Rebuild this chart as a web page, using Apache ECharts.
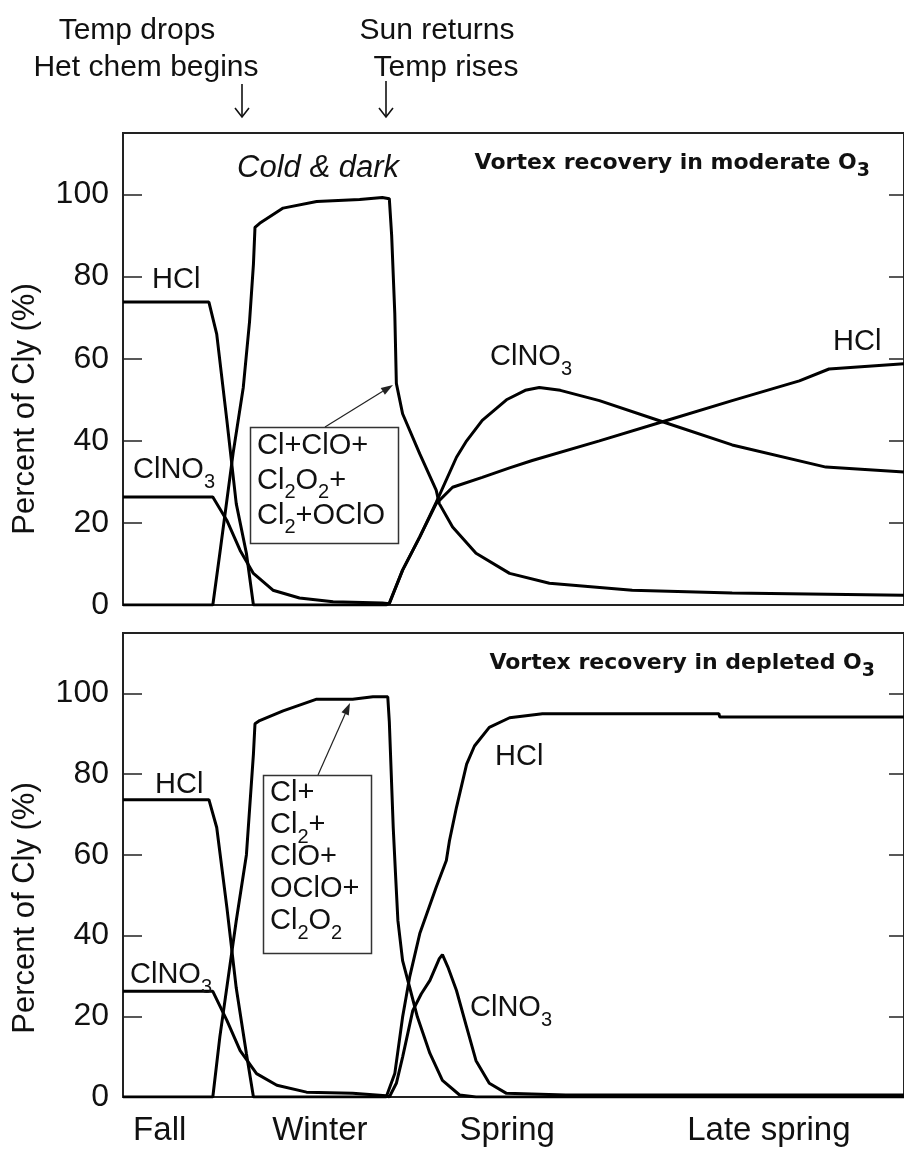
<!DOCTYPE html>
<html><head><meta charset="utf-8">
<script src="https://cdn.jsdelivr.net/npm/echarts@6/dist/echarts.min.js"></script>
<style>html,body{margin:0;padding:0;background:#fff}#chart{width:904px;height:1152px}</style>
</head><body><div id="chart"></div>
<script>
// ---- data (x: 0-100 season-time index, y: percent of Cly) ----
const yTicks = [0, 20, 40, 60, 80, 100];
const seasonLabels = ['Fall', 'Winter', 'Spring', 'Late spring'];
const seasonPositions = [4.7, 25.2, 49.2, 82.7];

// Top panel: vortex recovery in moderate O3
const hclModerate = [[0,73.8],[11.0,73.8],[12.0,66],[13.3,45],[14.5,24.7],[15.8,12.6],[16.7,0],[33.7,0],[34.1,0.5],[35.8,8.5],[38.0,16.6],[40.1,24.7],[42.2,28.7],[46.0,31.1],[49.5,33.4],[52.4,35.2],[61.0,40],[69.5,44.9],[78.0,49.8],[86.6,54.6],[90.4,57.5],[100,58.8]];
const clno3Moderate = [[0,26.3],[11.5,26.3],[13.3,20.6],[15.0,13.3],[16.7,7.7],[19.2,3.6],[22.6,1.7],[26.9,0.8],[33.2,0.5],[34.1,0.3],[35.8,8.5],[38.0,16.6],[40.1,25],[42.7,36],[44.0,40],[46.0,45],[49.1,50],[51.5,52.3],[53.3,53],[56.0,52.3],[61.0,49.8],[68.7,44.9],[78.0,39],[90.0,33.6],[100,32.4]];
const activeModerate = [[0,0],[11.5,0],[12.4,12.6],[14.1,37],[15.4,53],[16.2,69],[16.7,83],[16.9,92],[17.5,93],[20.5,96.7],[24.8,98.3],[30.3,98.8],[33.2,99.3],[34.1,99],[34.4,90],[34.8,71],[35.0,54],[35.8,46.6],[38.0,36.8],[40.1,28],[40.5,24.7],[42.2,19],[45.2,12.6],[49.5,7.7],[54.6,5.3],[65.2,3.6],[78.0,2.9],[100,2.4]];

// Bottom panel: vortex recovery in depleted O3
const hclDepleted = [[0,73.7],[11.0,73.7],[12.0,66.8],[13.3,47],[14.5,27],[15.8,10.8],[16.7,0],[33.7,0],[34.8,5.8],[35.8,19.8],[36.7,29.7],[38.0,40.5],[39.0,46],[40.1,52],[41.4,58.6],[41.8,63.5],[42.7,71.8],[44.0,82.5],[45.0,87],[46.9,91.6],[49.5,94],[53.7,95],[76.3,95],[76.4,94.2],[100,94.2]];
const clno3Depleted = [[0,26.2],[11.5,26.2],[13.3,19],[15.0,11.5],[17.1,5.8],[19.7,2.9],[23.5,1.2],[29.4,0.9],[33.7,0.3],[34.1,0],[35.0,3.4],[35.8,9.9],[37.1,21.4],[38.2,25.6],[39.3,28.9],[40.5,34.3],[40.9,35.3],[41.6,32.2],[42.7,26.4],[44.0,17.3],[45.2,9],[46.9,3.4],[49.1,0.9],[56.7,0.5],[100,0.5]];
const activeDepleted = [[0,0],[11.5,0],[12.4,14.9],[14.5,43.7],[15.8,60],[16.7,85],[16.9,92.5],[17.5,93.3],[20.5,95.7],[24.8,98.6],[29.4,98.6],[32.0,99.2],[33.9,99.2],[34.1,93],[34.6,66.8],[34.9,55],[35.2,43.7],[35.8,33.8],[36.7,27.2],[37.7,19.8],[39.3,10.8],[40.9,4.1],[43.1,0.5],[45.2,0],[100,0]];

// ---- chart ----
const FONT = 'Liberation Sans, Arial, sans-serif';
const INK = '#111';
const chart = echarts.init(document.getElementById('chart'), null, {renderer: 'canvas'});

const grids = [
  {left: 123, top: 133, width: 782, height: 472},
  {left: 123, top: 633, width: 782, height: 464}
];

function xAxisFor(i, withLabels) {
  return {
    type: 'value', gridIndex: i, min: 0, max: 100,
    axisLine: {show: true, lineStyle: {color: '#222', width: 2}},
    axisTick: {show: false},
    splitLine: {show: false},
    axisLabel: withLabels ? {
      show: true, customValues: seasonPositions, margin: 17,
      fontSize: 33, fontFamily: FONT, color: INK,
      formatter: function (v) {
        let best = 0;
        seasonPositions.forEach((p, k) => { if (Math.abs(p - v) < Math.abs(seasonPositions[best] - v)) best = k; });
        return seasonLabels[best];
      }
    } : {show: false}
  };
}
function yLeft(i) {
  return {
    type: 'value', gridIndex: i, min: 0, max: 115, position: 'left',
    axisLine: {show: true, lineStyle: {color: '#222', width: 2}},
    axisTick: {show: true, inside: true, length: 19, customValues: yTicks, lineStyle: {color: '#222', width: 1.5}},
    axisLabel: {show: true, customValues: yTicks, margin: 14, fontSize: 32, fontFamily: FONT, color: INK},
    splitLine: {show: false}
  };
}
function yRight(i) {
  return {
    type: 'value', gridIndex: i, min: 0, max: 115, position: 'right',
    axisLine: {show: true, lineStyle: {color: '#222', width: 2}},
    axisTick: {show: true, inside: true, length: 15, customValues: yTicks, lineStyle: {color: '#222', width: 1.5}},
    axisLabel: {show: false},
    splitLine: {show: false}
  };
}
function lineSeries(data, xi, yi) {
  return {
    type: 'line', data: data, xAxisIndex: xi, yAxisIndex: yi,
    showSymbol: false, symbol: 'none', smooth: false,
    lineStyle: {color: '#000', width: 3}, z: 3, silent: true
  };
}

// text helpers (graphic annotations)
function txt(x, y, text, opts) {
  opts = opts || {};
  const fs = opts.fontSize || 29;
  const lh = opts.lineHeight || Math.round(fs * 1.2);
  const sub = {fontSize: opts.subSize || 20, fontFamily: opts.fontFamily || FONT, fontWeight: opts.fontWeight || 'normal',
               fill: INK, lineHeight: lh, padding: [opts.subPad || 24, 0, 0, 0]};
  const el = {
    type: 'text', x: x, y: y, z: 10, silent: true,
    style: {
      text: text, fontSize: fs, fontFamily: opts.fontFamily || FONT,
      fontWeight: opts.fontWeight || 'normal', fontStyle: opts.fontStyle || 'normal',
      fill: INK, lineHeight: lh,
      align: opts.align || 'left', textAlign: opts.align || 'left',
      verticalAlign: opts.va || 'middle', textVerticalAlign: opts.va || 'middle',
      rich: {s: sub}
    }
  };
  if (opts.rotation) el.rotation = opts.rotation;
  return el;
}
function arrowLine(x1, y1, x2, y2, w) {
  const dx = x2 - x1, dy = y2 - y1, L = Math.sqrt(dx * dx + dy * dy);
  const ux = dx / L, uy = dy / L, nx = -uy, ny = ux;
  const hl = 12, hw = 4;
  const bx = x2 - ux * hl, by = y2 - uy * hl;
  return [
    {type: 'line', z: 10, silent: true, shape: {x1: x1, y1: y1, x2: bx, y2: by}, style: {stroke: '#222', lineWidth: w || 1.2}},
    {type: 'polygon', z: 10, silent: true, shape: {points: [[x2, y2], [bx + nx * hw, by + ny * hw], [bx - nx * hw, by - ny * hw]]}, style: {fill: '#222'}}
  ];
}
function downArrow(x, y1, y2) {
  return [
    {type: 'line', z: 10, silent: true, shape: {x1: x, y1: y1, x2: x, y2: y2}, style: {stroke: INK, lineWidth: 1.6}},
    {type: 'polyline', z: 10, silent: true, shape: {points: [[x - 7, y2 - 9], [x, y2], [x + 7, y2 - 9]]}, style: {stroke: INK, lineWidth: 1.6, fill: null}}
  ];
}

const yName = 'Percent of Cly (%)';
const graphics = [].concat(
  [
    txt(137, 31, 'Temp drops', {align: 'center', fontSize: 30}),
    txt(146, 68, 'Het chem begins', {align: 'center', fontSize: 30}),
    txt(437, 31, 'Sun returns', {align: 'center', fontSize: 30}),
    txt(446, 68, 'Temp rises', {align: 'center', fontSize: 30})
  ],
  downArrow(242, 84, 117),
  downArrow(386, 81, 117),
  [
    txt(25, 409, yName, {align: 'center', fontSize: 31, rotation: Math.PI / 2}),
    txt(25, 908, yName, {align: 'center', fontSize: 31, rotation: Math.PI / 2}),
    // top panel
    txt(318, 168, 'Cold & dark', {align: 'center', fontSize: 31, fontStyle: 'italic'}),
    txt(870, 163, 'Vortex recovery in moderate O{s|3}', {align: 'right', fontSize: 22, fontWeight: 'bold', fontFamily: 'DejaVu Sans, sans-serif', subSize: 19, subPad: 16}),
    txt(152, 280, 'HCl'),
    txt(133, 470, 'ClNO{s|3}'),
    txt(490, 357, 'ClNO{s|3}'),
    txt(833, 342, 'HCl'),
    {type: 'rect', z: 9, silent: true, shape: {x: 250.5, y: 427.5, width: 148, height: 116}, style: {fill: '#fff', stroke: '#333', lineWidth: 1.5}},
    txt(257, 428, 'Cl+ClO+\nCl{s|2}O{s|2}+\nCl{s|2}+OClO', {va: 'top', lineHeight: 35}),
    // bottom panel
    txt(875, 663, 'Vortex recovery in depleted O{s|3}', {align: 'right', fontSize: 22, fontWeight: 'bold', fontFamily: 'DejaVu Sans, sans-serif', subSize: 19, subPad: 16}),
    txt(155, 785, 'HCl'),
    txt(130, 975, 'ClNO{s|3}'),
    txt(495, 757, 'HCl'),
    txt(470, 1008, 'ClNO{s|3}'),
    {type: 'rect', z: 9, silent: true, shape: {x: 263.5, y: 775.5, width: 108, height: 178}, style: {fill: '#fff', stroke: '#333', lineWidth: 1.5}},
    txt(270, 777, 'Cl+\nCl{s|2}+\nClO+\nOClO+\nCl{s|2}O{s|2}', {va: 'top', lineHeight: 32})
  ],
  arrowLine(325, 427, 393, 385),
  arrowLine(318, 775, 350, 703)
);

chart.setOption({
  animation: false,
  backgroundColor: '#fff',
  grid: grids.map(g => Object.assign({show: true, borderColor: '#222', borderWidth: 2, backgroundColor: 'transparent'}, g)),
  xAxis: [xAxisFor(0, false), xAxisFor(1, true)],
  yAxis: [yLeft(0), yRight(0), yLeft(1), yRight(1)],
  series: [
    lineSeries(hclModerate, 0, 0),
    lineSeries(clno3Moderate, 0, 0),
    lineSeries(activeModerate, 0, 0),
    lineSeries(hclDepleted, 1, 2),
    lineSeries(clno3Depleted, 1, 2),
    lineSeries(activeDepleted, 1, 2)
  ],
  graphic: {elements: graphics}
});
</script>
</body></html>
